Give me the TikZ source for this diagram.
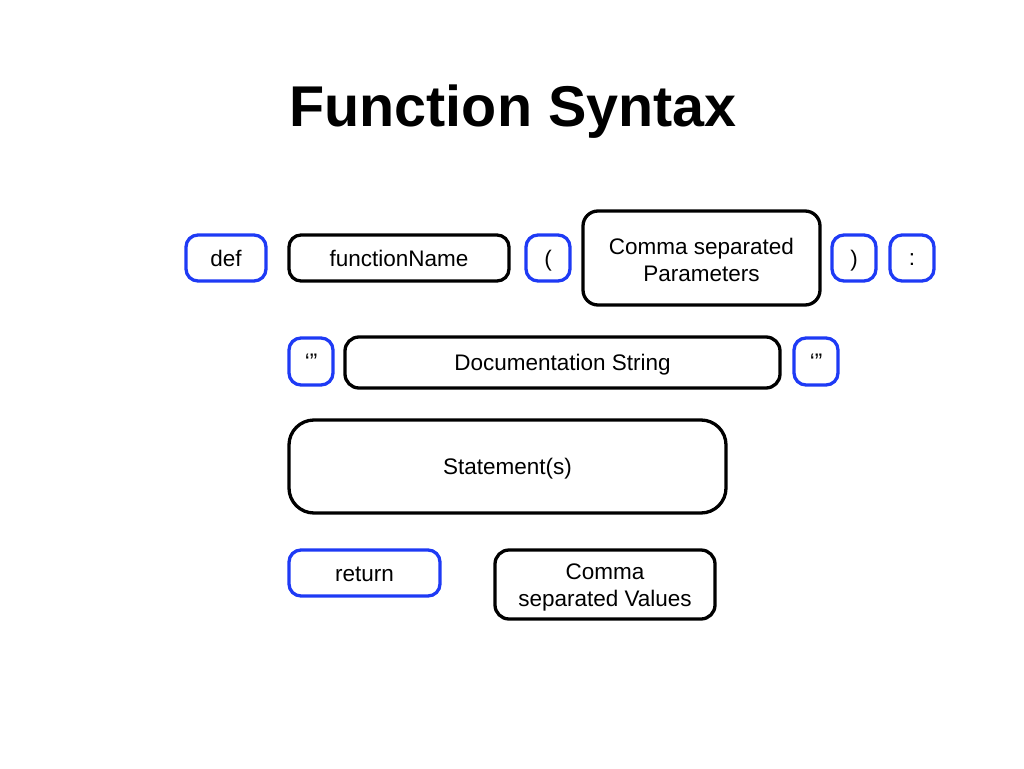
\documentclass[tikz,border=0pt]{standalone}
\usepackage{fontspec}
\setmainfont{Liberation Sans}
\definecolor{kblue}{RGB}{30,58,245}
\begin{document}
\begin{tikzpicture}[x=1pt,y=-1pt,
  box/.style={draw=black, line width=3.3pt, rounded corners=12pt, inner sep=0pt, align=center,
    font=\fontsize{22.5}{27}\selectfont},
  kw/.style={box, draw=kblue},
  oneline/.style={text height=16.2pt, text depth=0pt},
]
\useasboundingbox (0,0) rectangle (1024,768);
\node[font=\fontsize{57.5}{60}\selectfont\bfseries] (title) at (513,112) {Function Syntax};
% row 1
\node[kw, oneline, minimum width=80pt, minimum height=46pt] (def) at (226,258) {def};
\node[box, oneline, minimum width=220pt, minimum height=46pt] (fname) at (399,258) {functionName};
\node[kw, oneline, minimum width=44pt, minimum height=46pt] (lpar) at (548,258) {(};
\node[box, minimum width=237pt, minimum height=94pt, rounded corners=15pt] (params) at (701.5,258) {\rule{0pt}{20.2pt}Comma separated\\Parameters};
\node[kw, oneline, minimum width=44pt, minimum height=46pt] (rpar) at (854,258) {)};
\node[kw, text height=14pt, text depth=0pt, minimum width=44pt, minimum height=46pt] (colon) at (912,258) {:};
% row 2
\node[kw, oneline, minimum width=44pt, minimum height=47pt] (q1) at (311,361.5) {‘”};
\node[box, oneline, minimum width=435pt, minimum height=51pt, rounded corners=14pt] (doc) at (562.5,362.5) {Documentation String};
\node[kw, oneline, minimum width=44pt, minimum height=47pt] (q2) at (816,361.5) {‘”};
% row 3
\node[box, oneline, minimum width=437pt, minimum height=93pt, rounded corners=25pt] (stmt) at (507.5,466.5) {Statement(s)};
% row 4
\node[kw, oneline, minimum width=151pt, minimum height=46pt] (ret) at (364.5,573) {return};
\node[box, minimum width=220pt, minimum height=69pt, rounded corners=14pt] (vals) at (605,584.5) {\rule{0pt}{22.2pt}Comma\\separated Values};
\end{tikzpicture}
\end{document}
